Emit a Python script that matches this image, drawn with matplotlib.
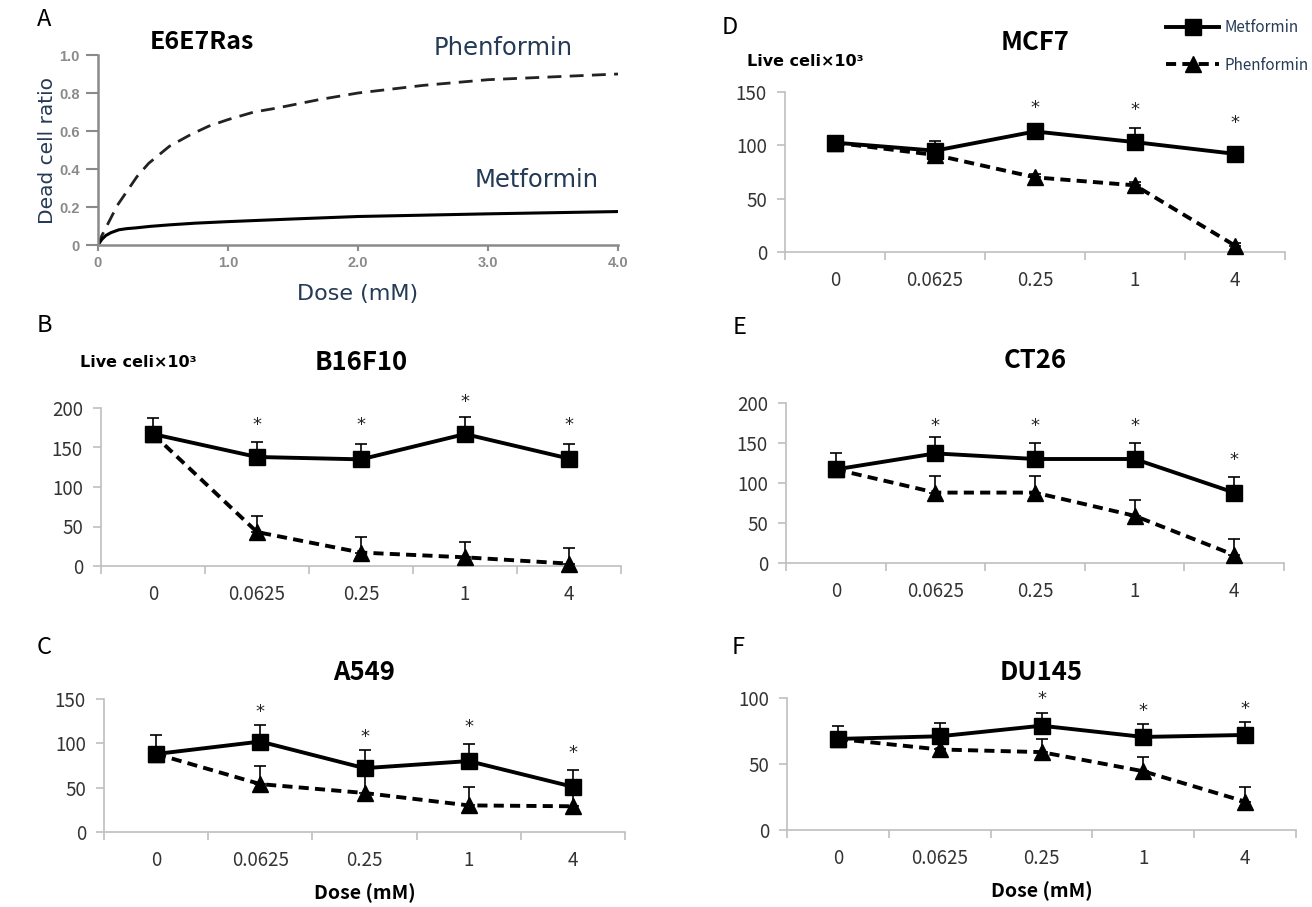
import numpy as np
import matplotlib
matplotlib.use("Agg")
import matplotlib.pyplot as plt

plt.rcParams['font.family'] = ['Noto Sans CJK KR', 'DejaVu Sans']

# ---- panel A: dead cell ratio curves (E6E7Ras) ----
phen_dose = [0, 0.03, 0.09, 0.15, 0.22, 0.3, 0.39, 0.55, 0.71, 0.85, 1.0, 1.2, 1.37, 1.7, 2.0, 2.5, 3.0, 3.5, 4.0]
phen_ratio = [0, 0.05, 0.13, 0.21, 0.28, 0.36, 0.43, 0.52, 0.58, 0.625, 0.66, 0.70, 0.72, 0.765, 0.80, 0.84, 0.87, 0.885, 0.90]
met_dose = [0, 0.03, 0.06, 0.1, 0.16, 0.22, 0.29, 0.4, 0.55, 0.75, 1.0, 1.5, 2.0, 2.5, 3.0, 3.5, 4.0]
met_ratio = [0, 0.03, 0.05, 0.065, 0.08, 0.086, 0.09, 0.098, 0.106, 0.115, 0.123, 0.137, 0.15, 0.157, 0.164, 0.17, 0.176]

# ---- panels B-F: live cells x10^3 ----
doses = ['0', '0.0625', '0.25', '1', '4']

b_met = [167, 138, 135, 167, 136]
b_met_err = [20, 19, 19, 21, 19]
b_phen = [167, 43, 17, 11, 3]
b_phen_err = [0, 20, 20, 20, 20]
b_star = [None, 179, 179, 207, 179]

c_met = [88, 102, 72, 80, 51]
c_met_err = [21, 19, 20, 19, 19]
c_phen = [88, 54, 44, 30, 29]
c_phen_err = [0, 20, 20, 21, 20]
c_star = [None, 135, 107, 118, 89]

d_met = [102.5, 95, 113, 103, 92]
d_met_err = [2, 9, 5, 13, 3]
d_phen = [102.5, 91, 70, 62.5, 6]
d_phen_err = [0, 3, 3, 3, 2]
d_star = [None, None, 135, 133, 121]

e_met = [117, 137, 130, 130, 88]
e_met_err = [20, 20, 20, 20, 20]
e_phen = [117, 88, 88, 59, 10]
e_phen_err = [0, 21, 21, 20, 20]
e_star = [None, 171, 171, 171, 129]

f_met = [69, 71, 79, 70.5, 72]
f_met_err = [10, 10, 9.5, 10, 10]
f_phen = [69, 61, 59, 44.5, 21.5]
f_phen_err = [0, 10, 10, 10.5, 11]
f_star = [None, None, 99, 90, 91.5]

W, H = 1312, 907
fig = plt.figure(figsize=(W / 100, H / 100), dpi=100)


def frac(left, right, y0, ytop):
    # pixel box -> figure fraction rect
    return [left / W, 1 - y0 / H, (right - left) / W, (y0 - ytop) / H]


GREY = '#bfbfbf'
TXT = '#333333'
NAVY = '#243a55'


def dose_panel(rect, met, met_err, phen, phen_err, stars, ymax, step, title, title_y):
    ax = fig.add_axes(rect)
    x = np.arange(len(doses))
    zeros = np.zeros(len(doses))
    ax.errorbar(x, phen, yerr=[zeros, phen_err], fmt='none', ecolor='black',
                elinewidth=1.2, capsize=4, capthick=1.2, zorder=2)
    ax.errorbar(x, met, yerr=[zeros, met_err], fmt='none', ecolor='black',
                elinewidth=1.2, capsize=4, capthick=1.2, zorder=2)
    ax.plot(x, phen, color='black', lw=2.8, ls=(0, (2.6, 1.6)), marker='^',
            ms=11, zorder=3, label='Phenformin')
    ax.plot(x, met, color='black', lw=2.8, marker='s', ms=11, zorder=4,
            label='Metformin')
    for xi, sy in zip(x, stars):
        if sy is not None:
            ax.text(xi, sy, '*', ha='center', va='center', fontsize=13,
                    color='#222222', family='DejaVu Sans')
    ax.set_xlim(-0.5, len(doses) - 0.5)
    ax.set_ylim(0, ymax)
    ax.set_yticks(np.arange(0, ymax + 1, step))
    ax.set_xticks(np.arange(-0.5, len(doses), 1.0))
    ax.set_xticklabels([])
    ax.set_xticks(x, minor=True)
    ax.set_xticklabels(doses, minor=True)
    ax.tick_params(axis='x', which='major', direction='out', length=6, color=GREY, width=1.2)
    ax.tick_params(axis='x', which='minor', length=0, pad=13, labelsize=13.5, labelcolor=TXT)
    ax.tick_params(axis='y', direction='out', length=6, color=GREY, width=1.2,
                   pad=7, labelsize=13.5, labelcolor=TXT)
    for s in ['top', 'right']:
        ax.spines[s].set_visible(False)
    for s in ['left', 'bottom']:
        ax.spines[s].set_color(GREY)
        ax.spines[s].set_linewidth(1.2)
    ax.spines['bottom'].set_zorder(1)
    for art in ax.lines + ax.collections:
        art.set_clip_on(False)
    cx = (rect[0] + rect[2] / 2)
    fig.text(cx, 1 - title_y / H, title, ha='center', va='center',
             fontsize=18.5, fontweight='bold')
    return ax


# panel A
axA = fig.add_axes(frac(98, 618, 245, 55))
axA.plot(phen_dose, phen_ratio, color='#222222', lw=2.0, ls=(0, (5, 3)))
axA.plot(met_dose, met_ratio, color='black', lw=2.2)
axA.set_xlim(0, 4)
axA.set_ylim(0, 1)
axA.set_xticks([0, 1, 2, 3, 4])
axA.set_xticklabels(['0', '1.0', '2.0', '3.0', '4.0'])
axA.set_yticks([0, 0.2, 0.4, 0.6, 0.8, 1.0])
axA.set_yticklabels(['0', '0.2', '0.4', '0.6', '0.8', '1.0'])
for lab in axA.get_xticklabels() + axA.get_yticklabels():
    lab.set_family('Liberation Sans')
    lab.set_fontweight('bold')
axA.tick_params(axis='both', colors='#8a8a8a', labelsize=10.5, width=1.5)
axA.tick_params(axis='y', length=9, pad=4)
axA.tick_params(axis='x', length=4, pad=4)
for s in ['top', 'right']:
    axA.spines[s].set_visible(False)
for s in ['left', 'bottom']:
    axA.spines[s].set_color('#8a8a8a')
    axA.spines[s].set_linewidth(1.8)
axA.set_ylabel('Dead cell ratio', family='DejaVu Sans', fontsize=14.5, color=NAVY, labelpad=2)
axA.set_xlabel('Dose (mM)', family='DejaVu Sans', fontsize=16, color=NAVY, labelpad=10)
fig.text(503 / W, 1 - 48 / H, 'Phenformin', family='DejaVu Sans', fontsize=17.5,
         color=NAVY, ha='center', va='center')
fig.text(537 / W, 1 - 180 / H, 'Metformin', family='DejaVu Sans', fontsize=17.5,
         color=NAVY, ha='center', va='center')
fig.text(202 / W, 1 - 42 / H, 'E6E7Ras', fontsize=18, fontweight='bold',
         ha='center', va='center')

axB = dose_panel(frac(101, 621, 566, 408), b_met, b_met_err, b_phen, b_phen_err,
                 b_star, 200, 50, 'B16F10', 363)
axC = dose_panel(frac(104, 625, 832, 699), c_met, c_met_err, c_phen, c_phen_err,
                 c_star, 150, 50, 'A549', 673)
axD = dose_panel(frac(785, 1285, 252, 92), d_met, d_met_err, d_phen, d_phen_err,
                 d_star, 150, 50, 'MCF7', 43)
axE = dose_panel(frac(786, 1284, 563, 403), e_met, e_met_err, e_phen, e_phen_err,
                 e_star, 200, 50, 'CT26', 360)
axF = dose_panel(frac(787, 1296, 830, 698), f_met, f_met_err, f_phen, f_phen_err,
                 f_star, 100, 50, 'DU145', 673)

for ax in (axC, axF):
    ax.set_xlabel('Dose (mM)', fontsize=14, fontweight='bold', labelpad=9)

for px, py in [(80, 363), (747, 62)]:
    fig.text(px / W, 1 - py / H, 'Live celi\u00d710\u00b3', family='DejaVu Sans',
             fontsize=11.5, fontweight='bold', ha='left', va='center')

# panel letters
for letter, px, py in [('A', 44, 20), ('B', 44, 325), ('C', 44, 647),
                       ('D', 730, 28), ('E', 740, 327), ('F', 738, 648)]:
    fig.text(px / W, 1 - py / H, letter, fontsize=17, ha='center', va='center')

# legend (top right)
h, l = axD.get_legend_handles_labels()
fig.legend(h[::-1], l[::-1], loc='upper left', bbox_to_anchor=(1166 / W, 1 - 19 / H),
           frameon=False, fontsize=11, handlelength=3.5, handletextpad=0.3,
           labelspacing=1.35, labelcolor=NAVY, borderaxespad=0, borderpad=0)

fig.savefig('out.png', dpi=100)
